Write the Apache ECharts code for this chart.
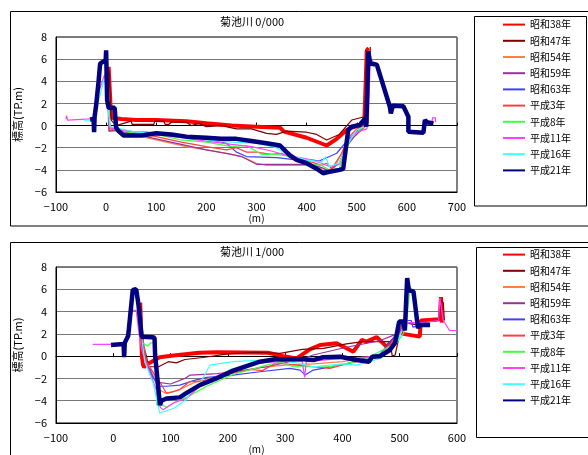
<!DOCTYPE html>
<html><head><meta charset="utf-8">
<script src="https://cdn.jsdelivr.net/npm/echarts@6/dist/echarts.min.js"></script>
<style>html,body{margin:0;padding:0;background:#fff}#c{width:588px;height:455px}</style>
</head><body><div id="c"></div><script>
const FONT = '"Noto Sans CJK JP", "Noto Sans", sans-serif';
const seriesNames = ['昭和38年','昭和47年','昭和54年','昭和59年','昭和63年','平成3年','平成8年','平成11年','平成16年','平成21年'];
const seriesColors = ['#ff0000','#800000','#ff8040','#993399','#4040ff','#ff4040','#40ff40','#ff40ff','#40ffff','#000080'];
const seriesWidths = [4,1.2,1.2,1.2,1.2,1.2,1.2,1.2,1.2,4.5];
const titleTop = '菊池川 0/000';
const titleBottom = '菊池川 1/000';
const yName = '標高(TP.m)';
const xName = '(m)';
const yTicks = [-6,-4,-2,0,2,4,6,8];
const xTicksTop = [-100,0,100,200,300,400,500,600,700];
const xTicksBottom = [-100,0,100,200,300,400,500,600];

// ---- Panel 0/000 ----
const top_S38 = [[5,5.3],[10,0.7],[30,0.6],[60,0.5],[100,0.5],[160,0.4],[200,0.2],[250,0.0],[300,-0.1],[347,-0.2],[355,-0.55],[400,-1.1],[440,-1.8],[460,-1.2],[480,-0.4],[500,0.0],[515,0.1],[520,6.8],[524,7.0]];
const top_S47 = [[6,5.0],[10,0.5],[20,0.0],[35,0.2],[50,0.4],[52,0.1],[95,0.1],[97,0.4],[115,0.4],[118,0.1],[125,0.1],[130,0.3],[160,0.3],[170,0.0],[185,0.2],[200,-0.1],[230,0.0],[260,-0.3],[290,-0.3],[320,-0.7],[340,-0.8],[360,-0.5],[400,-0.6],[420,-0.8],[440,-1.3],[465,-0.8],[490,0.5],[515,0.8],[522,0.9],[527,7.1]];
const top_S54 = [[3,4.0],[5,-0.5],[20,-0.5],[40,-0.7],[80,-1.1],[120,-1.5],[160,-1.9],[200,-2.2],[240,-2.5],[270,-2.8],[300,-3.4],[320,-3.6],[360,-3.6],[410,-3.6],[430,-3.9],[445,-4.0],[460,-3.4],[475,-2.0],[490,-1.2],[505,-0.6],[515,-0.2],[520,0.3],[523,5.5]];
const top_S59 = [[4,3.5],[6,-0.5],[20,-0.4],[50,-0.7],[100,-1.2],[150,-1.7],[200,-2.2],[250,-2.6],[270,-2.8],[300,-3.5],[350,-3.5],[410,-3.5],[430,-3.8],[445,-4.1],[465,-3.4],[478,-2.0],[495,-1.0],[510,-0.3],[520,0.2],[524,6.0]];
const top_S63 = [[4,3.0],[7,-0.2],[20,-0.3],[40,-0.6],[80,-0.6],[120,-0.8],[160,-1.0],[200,-1.2],[240,-1.6],[260,-2.4],[280,-2.8],[340,-2.9],[380,-3.1],[410,-3.1],[425,-3.2],[440,-2.9],[460,-2.5],[480,-1.4],[500,-0.5],[515,-0.1],[522,0.3],[525,6.5]];
const top_S3 = [[4,4.5],[7,-0.3],[20,-0.4],[60,-0.7],[100,-1.0],[150,-1.5],[200,-1.9],[240,-2.2],[260,-2.0],[280,-2.4],[300,-2.4],[330,-2.6],[350,-2.5],[380,-3.2],[410,-3.3],[430,-3.6],[440,-3.4],[450,-3.9],[470,-2.5],[485,-1.0],[500,-0.3],[515,0.0],[522,0.2],[525,6.9]];
const top_S8 = [[4,4.5],[6,1.4],[8,-0.2],[20,-0.4],[60,-0.7],[100,-0.8],[150,-1.3],[200,-1.5],[250,-1.9],[280,-1.8],[310,-2.6],[340,-2.6],[370,-2.8],[410,-3.5],[430,-3.6],[445,-4.0],[465,-3.9],[475,-2.5],[490,-1.0],[505,-0.4],[518,0.0],[524,6.5]];
const top_S11 = [[-80,0.6],[-79,0.9],[-77,0.5],[-30,0.6],[-25,0.6],[-15,3.0],[-3,4.6],[0,4.7],[5,1.0],[8,-0.2],[20,-0.3],[60,-0.6],[100,-0.8],[150,-1.1],[200,-1.4],[250,-1.7],[290,-1.9],[330,-2.3],[360,-2.7],[400,-3.0],[430,-3.4],[445,-3.7],[465,-3.5],[480,-1.6],[500,-0.6],[520,-0.3],[523,0.5],[527,6.0],[540,5.5],[565,1.8],[593,1.8],[603,0.8],[603,-0.5],[633,-0.6],[636,0.5],[650,0.2],[651,0.7],[657,0.7],[657,0.3]];
const top_S16 = [[-45,0.5],[-25,0.5],[-5,4.0],[0,4.2],[5,1.2],[8,-0.1],[20,-0.2],[60,-0.6],[100,-0.7],[150,-1.0],[200,-1.3],[250,-1.5],[300,-1.6],[340,-2.0],[360,-2.6],[400,-3.1],[430,-3.3],[438,-2.8],[445,-3.7],[465,-3.4],[480,-1.8],[500,-0.4],[520,0.0],[525,6.0]];
const top_S21 = [[-32,0.55],[-25,0.6],[-24,-0.6],[-23,0.8],[-20,1.8],[-15,4.0],[-12,5.6],[-5,5.8],[-1,5.8],[0,6.8],[2,2.3],[5,1.6],[17,1.6],[20,-0.2],[25,-0.5],[35,-0.9],[50,-0.9],[70,-0.9],[100,-0.7],[130,-0.8],[160,-1.0],[200,-1.1],[230,-1.2],[260,-1.2],[290,-1.4],[320,-1.6],[347,-1.8],[360,-2.4],[367,-2.7],[380,-3.1],[400,-3.4],[420,-3.9],[433,-4.3],[443,-4.2],[466,-4.0],[473,-3.9],[483,-0.4],[490,-0.1],[506,0.05],[516,0.6],[519,-0.1],[521,3.0],[523,6.7],[527,5.6],[540,5.5],[566,1.7],[568,1.1],[572,1.8],[593,1.75],[603,0.8],[603,-0.55],[633,-0.65],[636,0.5],[640,0.3],[653,0.2]];

// ---- Panel 1/000 ----
const bot_S38 = [[47,4.8],[50,0.0],[52,-0.8],[54,-1.0],[58,-0.75],[67,-0.5],[81,-0.1],[105,0.05],[150,0.3],[180,0.35],[270,0.3],[297,0.0],[320,-0.2],[343,0.6],[361,1.0],[390,1.15],[419,0.4],[434,1.45],[442,1.3],[460,1.7],[477,0.85],[492,1.6],[500,2.35],[506,2.0],[535,1.75],[537,3.2],[570,3.3],[572,5.3],[574,3.0]];
const bot_S47 = [[48,4.5],[52,1.0],[58,0.0],[61,-0.95],[79,-0.95],[96,-0.5],[110,-0.6],[125,-0.3],[160,-0.1],[200,0.2],[250,0.35],[291,0.25],[330,0.6],[367,0.7],[407,1.1],[436,1.3],[483,1.3],[487,0.0],[492,0.1],[500,2.0],[508,3.0],[530,2.8],[540,3.0],[568,3.2],[572,5.0],[576,4.8],[578,3.2]];
const bot_S54 = [[48,4.0],[52,1.0],[55,-0.5],[70,-1.5],[80,-3.0],[90,-3.3],[105,-3.2],[120,-2.9],[140,-2.4],[170,-2.0],[210,-1.5],[260,-1.0],[300,-0.8],[350,-0.7],[400,-0.5],[450,-0.1],[480,0.4],[495,1.3],[505,2.5],[515,3.0],[540,3.0]];
const bot_S59 = [[49,4.0],[53,0.5],[60,-1.0],[70,-2.0],[79,-2.35],[100,-2.5],[125,-2.0],[134,-1.7],[175,-1.6],[209,-1.4],[268,-0.95],[326,-0.3],[349,0.1],[407,0.8],[466,1.4],[495,2.0],[510,3.0],[540,3.0]];
const bot_S63 = [[50,2.0],[55,-0.5],[65,-1.3],[75,-2.45],[81,-2.7],[93,-2.7],[116,-2.6],[140,-2.2],[163,-1.9],[209,-1.7],[256,-1.4],[308,-1.1],[326,-1.25],[335,-1.7],[349,-1.25],[407,-0.7],[466,0.2],[500,2.35],[506,3.2],[520,3.2],[523,2.6],[541,2.8]];
const bot_S3 = [[49,3.5],[52,1.5],[58,-0.5],[70,-1.5],[81,-2.3],[93,-3.35],[116,-3.0],[133,-2.3],[163,-2.2],[180,-2.0],[200,-1.6],[221,-1.4],[240,-1.2],[260,-1.3],[285,-0.6],[320,-0.8],[349,-0.95],[378,-1.1],[407,-0.7],[466,-0.05],[489,1.45],[498,2.35],[510,3.0]];
const bot_S8 = [[50,1.2],[60,0.9],[65,1.2],[73,1.15],[76,-4.4],[81,-4.2],[93,-4.6],[105,-4.2],[128,-3.7],[163,-2.7],[209,-1.65],[268,-0.8],[291,-0.5],[314,-0.95],[378,-0.95],[436,-0.35],[495,1.2],[506,2.0],[512,3.0],[518,6.2],[524,5.8],[528,3.0]];
const bot_S11 = [[-36,1.05],[-4,1.05],[20,1.2],[33,4.1],[40,4.1],[45,2.0],[50,0.5],[60,-1.0],[75,-3.0],[82,-4.6],[87,-4.8],[105,-4.2],[128,-3.8],[157,-2.4],[192,-1.5],[250,-0.6],[323,-0.4],[330,-0.5],[334,-1.9],[337,-0.5],[400,-0.2],[470,0.0],[500,2.0],[510,3.0],[540,3.0],[568,3.2],[570,5.2],[576,3.2],[587,2.3],[600,2.3]];
const bot_S16 = [[50,1.5],[55,-0.5],[70,-2.5],[81,-5.1],[105,-4.7],[128,-3.9],[134,-3.3],[151,-2.5],[169,-0.8],[209,-0.5],[279,-0.3],[320,-0.6],[349,-0.95],[400,-0.7],[425,-0.8],[466,-0.2],[495,1.2],[506,2.5],[515,3.0]];
const bot_S21 = [[-4,1.0],[18,1.1],[19,-0.1],[20,1.2],[26,1.8],[34,5.94],[40,6.0],[44,4.6],[49.5,1.75],[68,1.7],[72,1.65],[73,0.1],[81.5,-4.4],[84,-4.0],[93,-3.8],[116,-3.7],[128,-3.3],[151,-2.6],[180,-2.0],[209,-1.3],[256,-0.5],[285,-0.25],[296,-0.3],[326,-0.25],[349,-0.35],[366,-0.1],[396,-0.05],[425,-0.35],[446,-0.5],[452,-0.05],[466,0.0],[483,0.55],[492,1.2],[499,3.1],[506,3.1],[509,2.3],[513,7.0],[516,5.9],[524,5.8],[532,2.5],[535,2.8],[553,2.8]];

const topData = [top_S38,top_S47,top_S54,top_S59,top_S63,top_S3,top_S8,top_S11,top_S16,top_S21];
const botData = [bot_S38,bot_S47,bot_S54,bot_S59,bot_S63,bot_S3,bot_S8,bot_S11,bot_S16,bot_S21];

const chart = echarts.init(document.getElementById('c'), null, {renderer:'canvas'});
const minus = v => String(v).replace('-', '\u2212');
const lab = {fontSize:11, color:'#000', fontFamily:FONT};

function xAxes(gi, ticks){
  const mn = ticks[0], mx = ticks[ticks.length-1];
  return [
    {gridIndex:gi, type:'value', min:mn, max:mx, interval:100, position:'bottom',
     axisLine:{show:true, onZero:false, lineStyle:{color:'#000', width:1}},
     axisTick:{show:false}, splitLine:{show:false},
     axisLabel:{...lab, margin:9, formatter:minus},
     name:xName, nameLocation:'middle', nameGap:19, nameTextStyle:{fontSize:10, color:'#000', fontFamily:FONT}},
    {gridIndex:gi, type:'value', min:mn, max:mx, interval:100, position:'bottom',
     axisLine:{show:true, onZero:true, lineStyle:{color:'#000', width:1}},
     axisTick:{show:true, inside:true, length:3, lineStyle:{color:'#000'}},
     axisLabel:{show:false}, splitLine:{show:false}}
  ];
}
function yAxis(gi){
  return {gridIndex:gi, type:'value', min:yTicks[0], max:yTicks[yTicks.length-1], interval:2,
    axisLine:{show:true, onZero:false, lineStyle:{color:'#000'}}, axisTick:{show:false},
    splitLine:{show:true, lineStyle:{color:'#777', width:1}},
    axisLabel:{...lab, margin:9, formatter:minus},
    name:yName, nameLocation:'middle', nameGap:33, nameRotate:90,
    nameTextStyle:{fontSize:11, color:'#000', fontFamily:FONT}};
}
function mkSeries(dataArr, gi){
  return dataArr.map((d,i)=>({
    name:seriesNames[i], type:'line', xAxisIndex:gi*2, yAxisIndex:gi,
    data:d, symbol:'none', showSymbol:false, smooth:false, animation:false,
    lineStyle:{color:seriesColors[i], width:seriesWidths[i]},
    itemStyle:{color:seriesColors[i]}, z:2+i, silent:true
  }));
}
function mkLegend(top){
  return {data:seriesNames, orient:'vertical', left:502, top:top, itemWidth:22, itemHeight:14, itemGap:5,
    selectedMode:false, itemStyle:{opacity:0}, textStyle:{fontSize:10, color:'#000', fontFamily:FONT}, padding:0};
}

chart.setOption({
  backgroundColor:'#fff',
  animation:false,
  title:[
    {text:titleTop, left:252, top:16, textAlign:'center', padding:0, textStyle:{fontSize:11, fontWeight:'normal', color:'#000', fontFamily:FONT}},
    {text:titleBottom, left:252, top:246, textAlign:'center', padding:0, textStyle:{fontSize:11, fontWeight:'normal', color:'#000', fontFamily:FONT}}
  ],
  grid:[
    {left:56, top:37, width:401, height:155, show:true, borderColor:'#000', borderWidth:1, backgroundColor:'transparent', containLabel:false},
    {left:56, top:267, width:401, height:156, show:true, borderColor:'#000', borderWidth:1, backgroundColor:'transparent', containLabel:false}
  ],
  xAxis:[...xAxes(0, xTicksTop), ...xAxes(1, xTicksBottom)],
  yAxis:[yAxis(0), yAxis(1)],
  legend:[mkLegend(19), mkLegend(249)],
  graphic:[
    {type:'rect', shape:{x:10.5, y:11.5, width:600, height:214.5}, style:{fill:'none', stroke:'#000', lineWidth:1}, silent:true},
    {type:'rect', shape:{x:10.5, y:242.5, width:600, height:250}, style:{fill:'none', stroke:'#000', lineWidth:1}, silent:true},
    {type:'rect', shape:{x:474.5, y:16.5, width:112, height:189.5}, style:{fill:'none', stroke:'#000', lineWidth:1}, silent:true},
    {type:'rect', shape:{x:476.5, y:247.5, width:112, height:190}, style:{fill:'none', stroke:'#000', lineWidth:1}, silent:true}
  ],
  series:[...mkSeries(topData,0), ...mkSeries(botData,1)]
});
</script></body></html>
